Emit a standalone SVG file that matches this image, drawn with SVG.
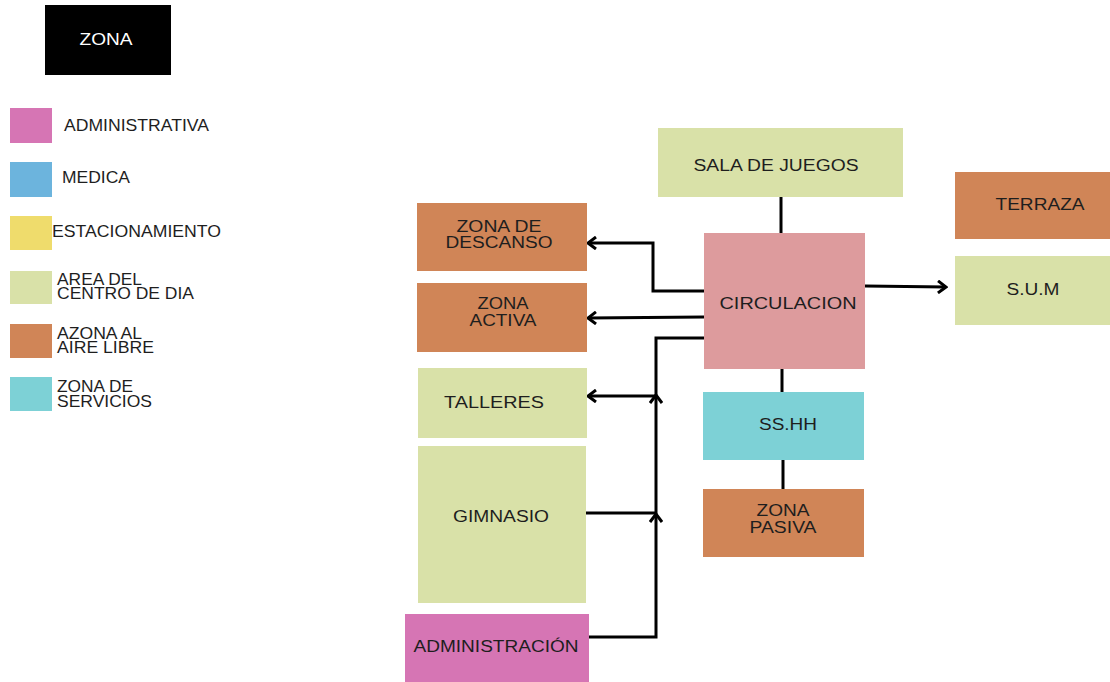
<svg xmlns="http://www.w3.org/2000/svg" width="1110" height="682" viewBox="0 0 1110 682">
<defs>
<style>
text{font-family:"Liberation Sans",Arial,sans-serif;fill:#1e1e1e}
.lg{font-size:16.5px}
.t{font-size:17.2px;text-anchor:middle}
.g{fill:#d9e1a8}
.o{fill:#d08557}
.p{fill:#dd9b9d}
.c{fill:#7dd1d6}
.m{fill:#d675b4}
.b{fill:#6cb4dd}
.y{fill:#efdc6c}
.ln{fill:none;stroke:#000;stroke-width:3}
</style>
<marker id="arr" viewBox="0 0 12 14" refX="10" refY="7" markerWidth="12" markerHeight="14" markerUnits="userSpaceOnUse" orient="auto">
<path d="M2,1 L10,7 L2,13" fill="none" stroke="#000" stroke-width="3"/>
</marker>
</defs>
<rect width="1110" height="682" fill="#fff"/>
<g id="legend">
<rect x="45" y="5" width="126" height="70" fill="#000"/>
<text x="106" y="45" class="t" style="fill:#fff" textLength="53" lengthAdjust="spacingAndGlyphs">ZONA</text>
<rect x="10" y="108" width="42" height="35" class="m"/>
<text x="64" y="131" class="lg" textLength="145" lengthAdjust="spacingAndGlyphs">ADMINISTRATIVA</text>
<rect x="10" y="162" width="42" height="35" class="b"/>
<text x="62" y="183" class="lg" textLength="68" lengthAdjust="spacingAndGlyphs">MEDICA</text>
<rect x="10" y="216" width="42" height="34" class="y"/>
<text x="52" y="237" class="lg" textLength="169" lengthAdjust="spacingAndGlyphs">ESTACIONAMIENTO</text>
<rect x="10" y="271" width="42" height="33" class="g"/>
<text x="57" y="285" class="lg" textLength="85" lengthAdjust="spacingAndGlyphs">AREA DEL</text>
<text x="57" y="299" class="lg" textLength="137" lengthAdjust="spacingAndGlyphs">CENTRO DE DIA</text>
<rect x="10" y="324" width="42" height="34" class="o"/>
<text x="57" y="339" class="lg" textLength="85" lengthAdjust="spacingAndGlyphs">AZONA AL</text>
<text x="57" y="353" class="lg" textLength="97" lengthAdjust="spacingAndGlyphs">AIRE LIBRE</text>
<rect x="10" y="377" width="42" height="34" class="c"/>
<text x="57" y="392" class="lg" textLength="76" lengthAdjust="spacingAndGlyphs">ZONA DE</text>
<text x="57" y="407" class="lg" textLength="95" lengthAdjust="spacingAndGlyphs">SERVICIOS</text>
</g>
<g id="connectors">
<path class="ln" d="M781,196 V233"/>
<path class="ln" d="M782,369 V392"/>
<path class="ln" d="M783,460 V489"/>
<path class="ln" d="M865,286 L946,287" marker-end="url(#arr)"/>
<path class="ln" d="M704,291 H653 V243 H588" marker-end="url(#arr)"/>
<path class="ln" d="M704,317 L588,318" marker-end="url(#arr)"/>
<path class="ln" d="M588,637 H656 V514" marker-end="url(#arr)"/>
<path class="ln" d="M656,514 V395" marker-end="url(#arr)"/>
<path class="ln" d="M656,395 V338 H704"/>
<path class="ln" d="M586,513 H656"/>
<path class="ln" d="M656,396 H588" marker-end="url(#arr)"/>
</g>
<g id="sala"><rect x="658" y="128" width="245" height="69" class="g"/><text x="776" y="171" class="t" textLength="165" lengthAdjust="spacingAndGlyphs">SALA DE JUEGOS</text></g>
<g id="terraza"><rect x="955" y="172" width="155" height="67" class="o"/><text x="1040" y="210" class="t" textLength="89" lengthAdjust="spacingAndGlyphs">TERRAZA</text></g>
<g id="sum"><rect x="955" y="256" width="155" height="69" class="g"/><text x="1033" y="295" class="t" textLength="53" lengthAdjust="spacingAndGlyphs">S.U.M</text></g>
<g id="circulacion"><rect x="704" y="233" width="161" height="136" class="p"/><text x="788" y="309" class="t" textLength="137" lengthAdjust="spacingAndGlyphs">CIRCULACION</text></g>
<g id="descanso"><rect x="417" y="203" width="170" height="68" class="o"/><text x="499" y="232" class="t" textLength="85" lengthAdjust="spacingAndGlyphs">ZONA DE</text><text x="499" y="248" class="t" textLength="107" lengthAdjust="spacingAndGlyphs">DESCANSO</text></g>
<g id="activa"><rect x="417" y="283" width="170" height="69" class="o"/><text x="503" y="309" class="t" textLength="51" lengthAdjust="spacingAndGlyphs">ZONA</text><text x="503" y="326" class="t" textLength="67" lengthAdjust="spacingAndGlyphs">ACTIVA</text></g>
<g id="talleres"><rect x="418" y="368" width="169" height="70" class="g"/><text x="494" y="408" class="t" textLength="100" lengthAdjust="spacingAndGlyphs">TALLERES</text></g>
<g id="gimnasio"><rect x="418" y="446" width="168" height="157" class="g"/><text x="501" y="522" class="t" textLength="96" lengthAdjust="spacingAndGlyphs">GIMNASIO</text></g>
<g id="administracion"><rect x="405" y="614" width="184" height="68" class="m"/><text x="496" y="652" class="t" textLength="165" lengthAdjust="spacingAndGlyphs">ADMINISTRACIÓN</text></g>
<g id="sshh"><rect x="703" y="392" width="161" height="68" class="c"/><text x="788" y="430" class="t" textLength="58" lengthAdjust="spacingAndGlyphs">SS.HH</text></g>
<g id="pasiva"><rect x="703" y="489" width="161" height="68" class="o"/><text x="783" y="516" class="t" textLength="53" lengthAdjust="spacingAndGlyphs">ZONA</text><text x="783" y="533" class="t" textLength="67" lengthAdjust="spacingAndGlyphs">PASIVA</text></g>
</svg>
